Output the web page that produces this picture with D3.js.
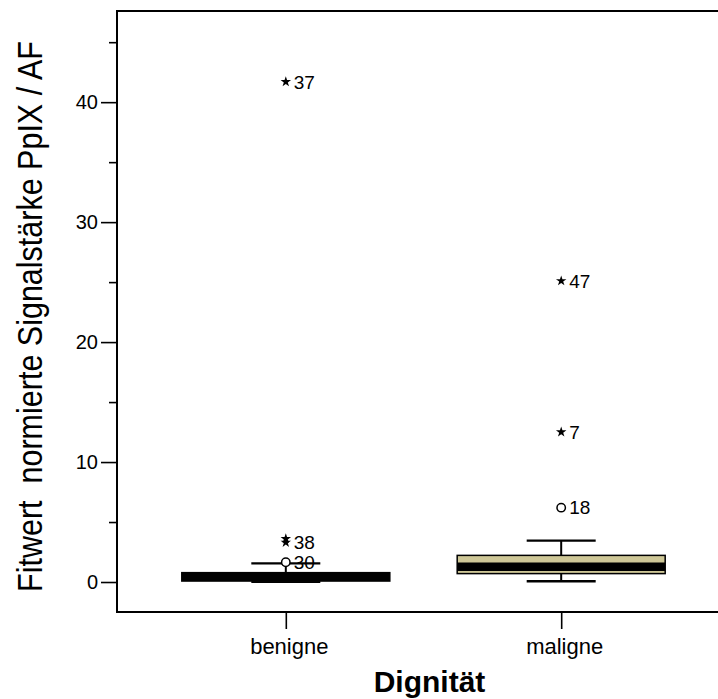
<!DOCTYPE html>
<html>
<head>
<meta charset="utf-8">
<script src="https://cdn.jsdelivr.net/npm/d3@7"></script>
<style>
body{margin:0;background:#fff;}
svg text{font-family:"Liberation Sans",Arial,sans-serif;fill:#000;}
</style>
</head>
<body>
<main></main>
<script>
const categories=["benigne","maligne"];
const q1=[0.08,0.7];
const median=[0.43,1.27];
const q3=[0.78,2.22];
const whiskerLow=[0.02,0.06];
const whiskerHigh=[1.55,3.45];
// outliers (circle) and extremes (star), with case numbers
const outlierCat=["benigne","maligne"];
const outlierVal=[1.65,6.2];
const outlierId=["30","18"];
const extremeCat=["benigne","benigne","benigne","maligne","maligne"];
const extremeVal=[41.7,3.6,3.3,25.1,12.5];
const extremeId=["37","","38","47","7"];
const majorTicks=[0,10,20,30,40];
const minorTicks=[5,15,25,35,45];

const w=718,h=699;
const pLeft=117,pTop=11,pBottom=612,pRight=730;

const svg=d3.select("main").append("svg")
  .attr("width",w).attr("height",h);

const x=d3.scalePoint()
  .domain(categories)
  .range([pLeft,pRight])
  .padding(0.613);
const y=d3.scaleLinear()
  .domain([-2.5,47.6])
  .range([pBottom,pTop]);

// frame
svg.append("path")
  .attr("d","M"+pRight+","+pTop+"H"+pLeft+"V"+pBottom+"H"+pRight)
  .attr("fill","none").attr("stroke","#000").attr("stroke-width",2);

const yAxis=d3.axisLeft(y).tickValues(majorTicks).tickSize(16).tickPadding(3).tickFormat(d3.format("d"));
const gy=svg.append("g").attr("transform","translate("+pLeft+",0)").call(yAxis);
gy.select(".domain").remove();
gy.selectAll("line").attr("stroke-width",1.6);
gy.selectAll("text").style("font-size","20px");

const gMinor=svg.append("g").attr("transform","translate("+pLeft+",0)")
  .call(d3.axisLeft(y).tickValues(minorTicks).tickSize(8).tickFormat(""));
gMinor.select(".domain").remove();
gMinor.selectAll("line").attr("stroke-width",1.6);

const xAxis=d3.axisBottom(x).tickSize(17).tickPadding(6);
const gx=svg.append("g").attr("transform","translate(0,"+pBottom+")").call(xAxis);
gx.select(".domain").remove();
gx.selectAll("line").attr("stroke-width",1.6);
gx.selectAll("text").style("font-size","22px").attr("dy","0.85em").attr("dx",3);

// boxes
const boxW=208,capW=69;
const boxes=categories.map((c,i)=>({c,q1:q1[i],med:median[i],q3:q3[i],lo:whiskerLow[i],hi:whiskerHigh[i]}));
const gb=svg.append("g");
boxes.forEach(b=>{
  const cx=x(b.c);
  gb.append("line").attr("x1",cx).attr("x2",cx).attr("y1",y(b.hi)).attr("y2",y(b.lo))
    .attr("stroke","#000").attr("stroke-width",2);
  [b.lo,b.hi].forEach(v=>{
    gb.append("line").attr("x1",cx-capW/2).attr("x2",cx+capW/2).attr("y1",y(v)).attr("y2",y(v))
      .attr("stroke","#000").attr("stroke-width",2.4);
  });
  gb.append("rect").attr("x",cx-boxW/2).attr("width",boxW)
    .attr("y",y(b.q3)).attr("height",y(b.q1)-y(b.q3))
    .attr("fill","#cec797").attr("stroke","#000").attr("stroke-width",1.5);
  gb.append("line").attr("x1",cx-boxW/2).attr("x2",cx+boxW/2).attr("y1",y(b.med)).attr("y2",y(b.med))
    .attr("stroke","#000").attr("stroke-width",8.5);
});

// outliers
outlierVal.forEach((v,i)=>{
  const cx=x(outlierCat[i]);
  svg.append("circle").attr("cx",cx).attr("cy",y(v)).attr("r",4.2)
    .attr("fill","#fff").attr("stroke","#000").attr("stroke-width",1.5);
  svg.append("text").attr("x",cx+8).attr("y",y(v)).attr("dy","0.36em")
    .style("font-size","19px").text(outlierId[i]);
});
const star=d3.symbol().type(d3.symbolStar).size(34);
extremeVal.forEach((v,i)=>{
  const cx=x(extremeCat[i]);
  svg.append("path").attr("d",star).attr("transform","translate("+cx+","+y(v)+")").attr("fill","#000");
  if(extremeId[i]) svg.append("text").attr("x",cx+8).attr("y",y(v)).attr("dy","0.36em")
    .style("font-size","19px").text(extremeId[i]);
});

// titles
svg.append("text").attr("x",(pLeft+pRight)/2+6).attr("y",692)
  .attr("text-anchor","middle").style("font-size","30px").style("font-weight","bold")
  .text("Dignität");
svg.append("text").attr("transform","translate(42,"+((pTop+pBottom)/2+5)+") rotate(-90) scale(1,1.12)")
  .attr("text-anchor","middle").style("font-size","30.5px").style("white-space","pre")
  .text("Fitwert  normierte Signalstärke PpIX / AF");
</script>
</body>
</html>
